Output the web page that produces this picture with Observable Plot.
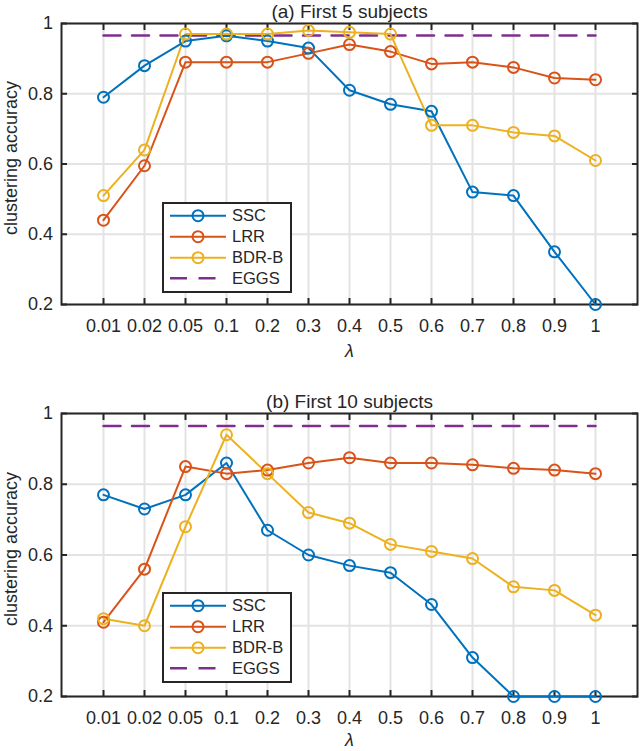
<!DOCTYPE html>
<html>
<head>
<meta charset="utf-8">
<script src="https://cdn.jsdelivr.net/npm/d3@7"></script>
<script src="https://cdn.jsdelivr.net/npm/@observablehq/plot@0.6"></script>
<style>
  html, body { margin: 0; padding: 0; background: #fff; }
  body { width: 640px; font-family: "Liberation Sans", Arial, Helvetica, sans-serif; }
  .panel { position: relative; width: 640px; }
  .legend { position: absolute; }
  svg { font-family: "Liberation Sans", Arial, Helvetica, sans-serif; }
</style>
</head>
<body>
<div id="chart"></div>
<script>
// ---- data ----
const lambdas = ["0.01","0.02","0.05","0.1","0.2","0.3","0.4","0.5","0.6","0.7","0.8","0.9","1"];
const seriesNames = ["SSC", "LRR", "BDR-B"];
const eggsName = "EGGS";
const yTicks = [0.2, 0.4, 0.6, 0.8, 1];

const titleA = "(a) First 5 subjects";
const sscA  = [0.79, 0.88, 0.95, 0.965, 0.95, 0.93, 0.81, 0.77, 0.75, 0.52, 0.51, 0.35, 0.20];
const lrrA  = [0.44, 0.595, 0.89, 0.89, 0.89, 0.915, 0.94, 0.92, 0.885, 0.89, 0.875, 0.845, 0.84];
const bdrA  = [0.51, 0.64, 0.97, 0.97, 0.97, 0.98, 0.975, 0.97, 0.71, 0.71, 0.69, 0.68, 0.61];
const eggsA = 0.966;

const titleB = "(b) First 10 subjects";
const sscB  = [0.77, 0.73, 0.77, 0.86, 0.67, 0.60, 0.57, 0.55, 0.46, 0.31, 0.20, 0.20, 0.20];
const lrrB  = [0.41, 0.56, 0.85, 0.83, 0.84, 0.86, 0.875, 0.86, 0.86, 0.855, 0.845, 0.84, 0.83];
const bdrB  = [0.42, 0.40, 0.68, 0.94, 0.83, 0.72, 0.69, 0.63, 0.61, 0.59, 0.51, 0.50, 0.43];
const eggsB = 0.965;

const xLabel = "λ";
const yLabel = "clustering accuracy";

// ---- styles ----
const colors = ["#0072BD", "#D95319", "#EDB120"];
const eggsColor = "#7E2F8E";
const axisColor = "#262626";
const gridColor = "#e3e3e3";
const dash = "17,11.5";

function panel({title, values, eggs, height, marginTop, marginBottom, titleDy, lambdaDy, legendTop}) {
  const rows = seriesNames.flatMap((s, i) => lambdas.map((lam, j) => ({lam, v: values[i][j], s})));
  const chart = Plot.plot({
    width: 640,
    height,
    marginLeft: 61,
    marginRight: 3,
    marginTop,
    marginBottom,
    style: {fontFamily: '"Liberation Sans", Arial, Helvetica, sans-serif', color: axisColor, background: "white"},
    x: {type: "point", domain: lambdas, padding: 1, label: null},
    y: {domain: [0.2, 1], ticks: yTicks, label: null},
    color: {domain: seriesNames, range: colors},
    marks: [
      Plot.ruleX(lambdas, {x: d => d, stroke: gridColor, strokeWidth: 2}),
      Plot.ruleY(yTicks, {y: d => d, stroke: gridColor, strokeWidth: 2}),
      Plot.frame({stroke: axisColor, strokeWidth: 2}),
      Plot.axisX({anchor: "bottom", tickSize: 0, tickPadding: 15, fontSize: 18, fill: axisColor, label: null}),
      Plot.axisX({anchor: "bottom", tickSize: -6, fill: "none", stroke: axisColor, strokeWidth: 2, label: null}),
      Plot.axisX({anchor: "top", tickSize: -6, fill: "none", stroke: axisColor, strokeWidth: 2, label: null}),
      Plot.axisY({anchor: "left", ticks: yTicks, tickSize: 0, tickPadding: 8.5, fontSize: 18, fill: axisColor, label: null, tickFormat: d => String(d)}),
      Plot.axisY({anchor: "left", ticks: yTicks, tickSize: -6, fill: "none", stroke: axisColor, strokeWidth: 2, label: null}),
      Plot.axisY({anchor: "right", ticks: yTicks, tickSize: -6, fill: "none", stroke: axisColor, strokeWidth: 2, label: null}),
      Plot.line(lambdas, {x: d => d, y: () => eggs, stroke: eggsColor, strokeWidth: 2.5, strokeDasharray: dash}),
      Plot.line(rows, {x: "lam", y: "v", z: "s", stroke: "s", strokeWidth: 2}),
      Plot.dot(rows, {x: "lam", y: "v", stroke: "s", r: 5.5, strokeWidth: 2, fill: "none"}),
      Plot.text([title], {frameAnchor: "top", lineAnchor: "middle", textAnchor: "middle", dy: titleDy, fontSize: 19, fill: axisColor}),
      Plot.text([xLabel], {frameAnchor: "bottom", lineAnchor: "middle", textAnchor: "middle", dy: lambdaDy, fontSize: 18, fontStyle: "italic", fill: axisColor}),
      Plot.text([yLabel], {frameAnchor: "left", lineAnchor: "middle", textAnchor: "middle", dx: -50, dy: -6, rotate: -90, fontSize: 18, fill: axisColor})
    ]
  });

  const wrap = document.createElement("div");
  wrap.className = "panel";
  wrap.appendChild(chart);

  // legend
  const lw = 130, lh = 91;
  const leg = d3.create("svg").attr("class", "legend")
    .attr("width", lw).attr("height", lh)
    .style("left", "162px").style("top", legendTop + "px");
  leg.append("rect").attr("x", 1).attr("y", 1).attr("width", lw - 2).attr("height", lh - 2)
    .attr("fill", "white").attr("stroke", axisColor).attr("stroke-width", 2);
  const entries = seriesNames.map((s, i) => ({name: s, color: colors[i], marker: true}))
    .concat([{name: eggsName, color: eggsColor, marker: false}]);
  const rowY = [13.7, 34.7, 55.7, 76.3];
  entries.forEach((e, i) => {
    const g = leg.append("g").attr("transform", `translate(0,${rowY[i]})`);
    const ln = g.append("line").attr("x1", 8).attr("x2", 64).attr("y1", 0).attr("y2", 0)
      .attr("stroke", e.color).attr("stroke-width", e.marker ? 2 : 2.5);
    if (!e.marker) ln.attr("stroke-dasharray", dash);
    if (e.marker) g.append("circle").attr("cx", 36).attr("cy", 0).attr("r", 5.5)
      .attr("fill", "none").attr("stroke", e.color).attr("stroke-width", 2);
    g.append("text").attr("x", 70).attr("y", 0).attr("dy", "0.35em")
      .attr("font-size", 16.5).attr("fill", axisColor).text(e.name);
  });
  wrap.appendChild(leg.node());
  return wrap;
}

const root = document.getElementById("chart");
root.appendChild(panel({
  title: titleA, values: [sscA, lrrA, bdrA], eggs: eggsA,
  height: 370, marginTop: 23, marginBottom: 66, titleDy: -12, lambdaDy: 47, legendTop: 202
}));
root.appendChild(panel({
  title: titleB, values: [sscB, lrrB, bdrB], eggs: eggsB,
  height: 381, marginTop: 43, marginBottom: 55, titleDy: -12, lambdaDy: 44, legendTop: 592 - 370
}));
</script>
</body>
</html>
